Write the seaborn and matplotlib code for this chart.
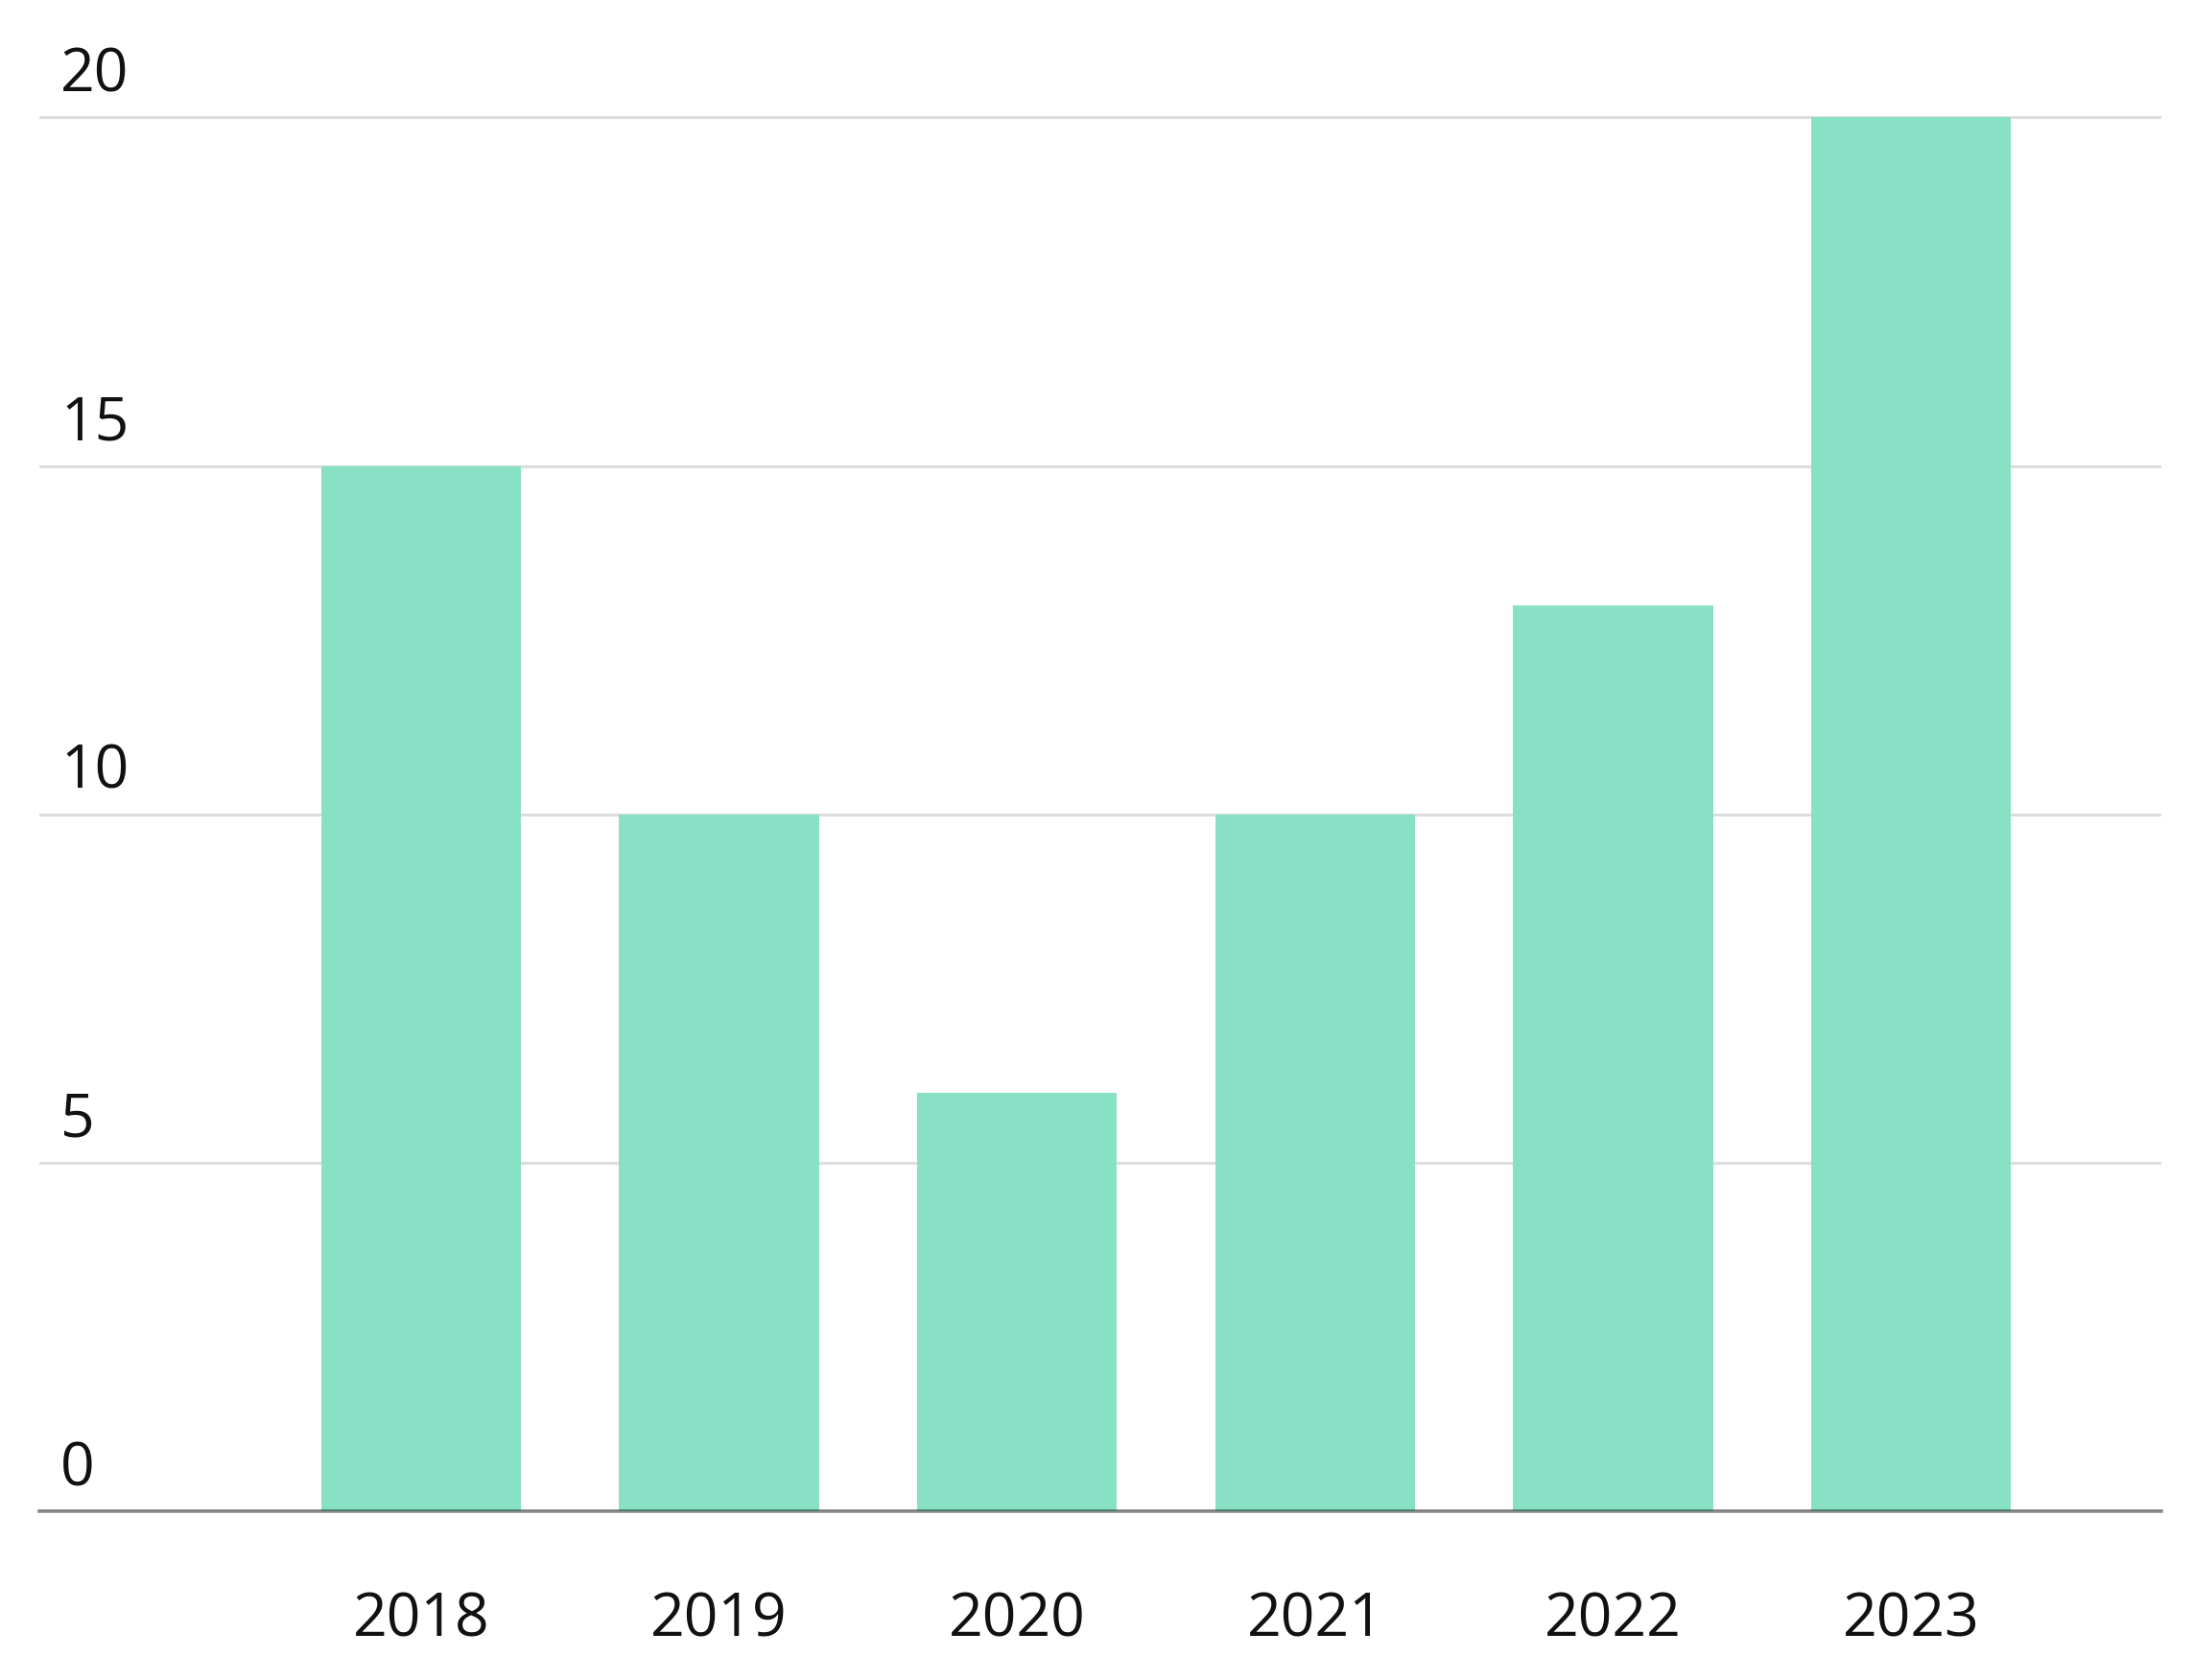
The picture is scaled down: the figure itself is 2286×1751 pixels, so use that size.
import matplotlib
matplotlib.use("Agg")
import matplotlib.pyplot as plt
import matplotlib.transforms as mtransforms
import seaborn as sns

# Datos
anios = ["2018", "2019", "2020", "2021", "2022", "2023"]
valores = [15, 10, 6, 10, 13, 20]
ticks_y = [0, 5, 10, 15, 20]

color_barra = "#88e1c5"

sns.set_theme(style="white")
plt.rcParams["font.family"] = ["Open Sans", "DejaVu Sans"]

fig = plt.figure(figsize=(11.43, 8.755), dpi=200)
ax = fig.add_axes([0.018, 0.1005, 0.9676, 0.8337])

sns.barplot(x=anios, y=valores, color=color_barra, saturation=1, width=0.67,
            linewidth=0, ax=ax)

ax.set_xlim(-1.28, 5.84)
ax.set_ylim(0, 20.1)
ax.set_xlabel("")
ax.set_ylabel("")

# rejilla horizontal
ax.set_yticks(ticks_y)
ax.set_yticklabels([])
ax.yaxis.grid(True, color="#dddddd", linewidth=1.1)
ax.set_axisbelow(True)
ax.tick_params(axis="y", length=0)

# etiquetas del eje y encima de la línea
for v in ticks_y:
    trans = mtransforms.offset_copy(
        mtransforms.blended_transform_factory(ax.transAxes, ax.transData),
        fig=fig, x=7.9, y=9.7, units="points",
    )
    ax.text(0, v, str(v), transform=trans, ha="left", va="baseline",
            fontsize=22.5, color="#111111", clip_on=False)

ax.tick_params(axis="x", length=0, pad=30, labelsize=22.5, labelcolor="#111111")

for lado in ["top", "left", "right"]:
    ax.spines[lado].set_visible(False)
ax.spines["bottom"].set_color((0, 0, 0, 0.45))
ax.spines["bottom"].set_linewidth(1.3)
ax.spines["bottom"].set_zorder(5)

fig.savefig("out.png", dpi=200)
